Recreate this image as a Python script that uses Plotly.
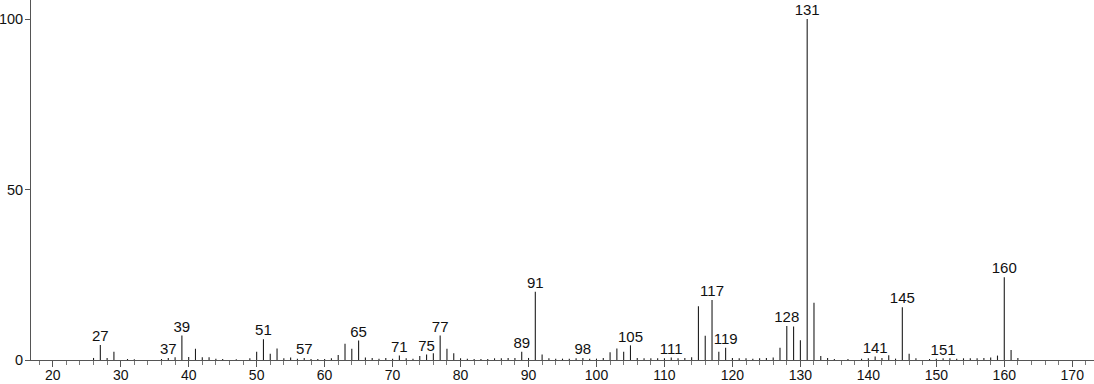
import plotly.graph_objects as go

mz = [26, 27, 28, 29, 31, 32, 36, 37, 38, 39, 40, 41, 42, 43, 44, 45, 47, 49, 50, 51,
      52, 53, 54, 55, 56, 57, 58, 59, 60, 61, 62, 63, 64, 65, 66, 67, 68, 69, 70, 71,
      72, 73, 74, 75, 76, 77, 78, 79, 80, 81, 82, 83, 84, 85, 86, 87, 88, 89, 90, 91,
      92, 93, 94, 95, 96, 97, 98, 99, 100, 101, 102, 103, 104, 105, 106, 107, 108, 109, 110, 111,
      112, 113, 114, 115, 116, 117, 118, 119, 120, 121, 122, 123, 124, 125, 126, 127, 128, 129, 130, 131,
      132, 133, 134, 135, 137, 139, 140, 141, 142, 143, 144, 145, 146, 147, 149, 150, 151, 152, 153, 154,
      155, 156, 157, 158, 159, 160, 161, 162]
intensity = [0.6, 4.4, 0.6, 2.4, 0.3, 0.2, 0.3, 0.6, 0.8, 7.2, 0.9, 3.3, 0.8, 0.8, 0.4, 0.3, 0.2, 0.5, 2.4, 6.1,
             1.8, 3.4, 0.5, 0.7, 0.4, 0.6, 0.3, 0.3, 0.3, 0.5, 1.5, 4.8, 3.3, 5.7, 0.7, 0.6, 0.4, 0.6, 0.4, 1.3,
             0.5, 0.4, 1.2, 1.6, 2.0, 7.2, 3.3, 2.0, 0.5, 0.4, 0.3, 0.3, 0.3, 0.5, 0.5, 0.6, 0.6, 2.4, 0.6, 20.0,
             1.6, 0.5, 0.4, 0.4, 0.4, 0.5, 0.6, 0.4, 0.4, 0.6, 2.3, 3.4, 2.4, 4.3, 0.6, 0.5, 0.5, 0.5, 0.5, 0.7,
             0.5, 0.6, 0.8, 15.8, 7.1, 17.6, 2.4, 3.6, 0.6, 0.5, 0.5, 0.4, 0.5, 0.6, 0.7, 3.6, 10.0, 9.8, 5.8, 100.0,
             16.8, 1.2, 0.6, 0.3, 0.3, 0.4, 0.5, 1.0, 0.6, 1.4, 0.4, 15.5, 1.8, 0.5, 0.3, 0.4, 0.5, 0.5, 0.4, 0.5,
             0.5, 0.5, 0.6, 0.7, 1.3, 24.3, 2.9, 0.6]

label_mz = [27, 37, 39, 51, 57, 65, 71, 75, 77, 89, 91, 98, 105, 111, 117, 119, 128, 131, 141, 145, 151, 160]

x_ticks = [20, 30, 40, 50, 60, 70, 80, 90, 100, 110, 120, 130, 140, 150, 160, 170]
y_ticks = [0, 50, 100]

lookup = dict(zip(mz, intensity))
label_y = [lookup[m] for m in label_mz]

# stick segments built from the data arrays (x, x, gap)
stick_x, stick_y = [], []
for m, v in zip(mz, intensity):
    stick_x += [m, m, None]
    stick_y += [0, v, None]

FONT = "Liberation Sans, Arial, Helvetica, sans-serif"

fig = go.Figure()
fig.add_trace(go.Scatter(
    x=stick_x, y=stick_y, mode="lines",
    line=dict(color="#1e1e1e", width=1.1),
    hoverinfo="skip", showlegend=False,
))
fig.add_trace(go.Scatter(
    x=label_mz, y=label_y, mode="text",
    text=[str(m) for m in label_mz], textposition="top center",
    textfont=dict(family=FONT, size=15, color="#111111"),
    showlegend=False, hoverinfo="skip", cliponaxis=False,
))

fig.update_layout(
    width=1094, height=384,
    margin=dict(l=31, r=0, t=0, b=24, autoexpand=False),
    paper_bgcolor="white", plot_bgcolor="white",
    font=dict(family=FONT, size=14, color="#111111"),
)
fig.update_xaxes(
    range=[16.8, 173.2], tickvals=x_ticks, ticktext=[str(v) for v in x_ticks],
    showgrid=False, zeroline=False, showline=True, linecolor="#555555", linewidth=1,
    ticks="outside", ticklen=6, tickcolor="#555555", tickwidth=1,
    minor=dict(dtick=2, tick0=0, ticks="outside", ticklen=4, tickcolor="#777777", tickwidth=1, showgrid=False),
    tickfont=dict(size=14), ticklabelstandoff=-4, automargin=False,
)
fig.update_yaxes(
    range=[0, 105.6], tickvals=y_ticks, ticktext=[str(v) for v in y_ticks],
    showgrid=False, zeroline=False, showline=True, linecolor="#555555", linewidth=1,
    ticks="outside", ticklen=5, tickcolor="#555555", tickwidth=1,
    tickfont=dict(size=14.5), ticklabelstandoff=-1, automargin=False,
)

fig.write_html("out.html")
